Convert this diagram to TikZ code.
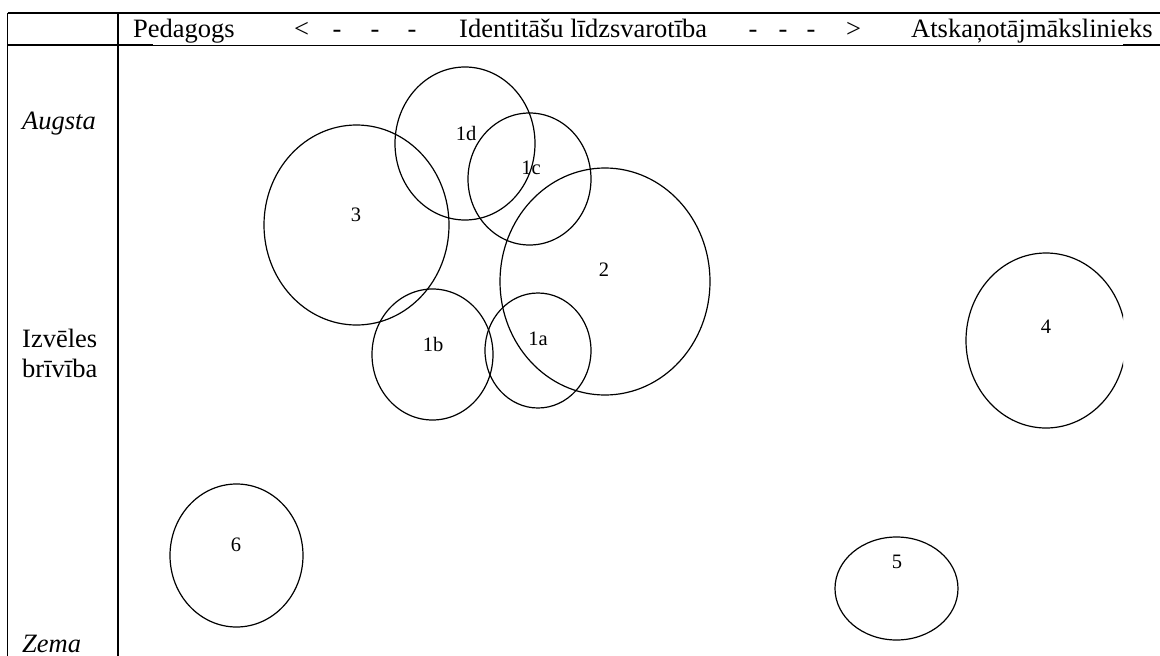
\documentclass[tikz,border=0pt]{standalone}
\usepackage{fontspec}
\setmainfont{Liberation Serif}
\usetikzlibrary{shapes.geometric}
\begin{document}
\begin{tikzpicture}[x=1pt,y=-1pt,
  rule/.style={line width=1.8pt},
  thinrule/.style={line width=0.9pt},
  bubble/.style={ellipse,draw,line width=1.2pt,inner sep=0pt,outer sep=0pt},
  lab/.style={font=\fontsize{20.5}{23}\selectfont,inner sep=0pt},
  head/.style={font=\fontsize{26.5}{30}\selectfont,inner sep=0pt,anchor=base west},
  headc/.style={font=\fontsize{26.5}{30}\selectfont,inner sep=0pt,anchor=base},
  side/.style={font=\fontsize{26.5}{30}\selectfont,inner sep=0pt,anchor=base west,align=left}]
\useasboundingbox (0,0) rectangle (1160,656);
% table lines
\coordinate (tl) at (7.5,13);
\coordinate (tr) at (1160,13);
\coordinate (bl) at (7.5,656);
\coordinate (dt) at (118,13);
\coordinate (db) at (118,656);
\coordinate (hl) at (7.5,45);
\coordinate (hm1) at (153,45);
\coordinate (hm2) at (1123,45);
\coordinate (hr) at (1160,45);
\draw[rule] (tl) -- (tr);
\draw[rule] (tl) -- (bl);
\draw[rule] (dt) -- (db);
\draw[rule] (hl) -- (hm1);
\draw[thinrule] (hm1) -- (hm2);
\draw[rule] (hm2) -- (hr);
% header
\node[head] (hped) at (133,37) {Pedagogs};
\node[head] (hlt) at (294,37) {<};
\node[headc] (hd1) at (337,37) {-};
\node[headc] (hd2) at (375,37) {-};
\node[headc] (hd3) at (412,37) {-};
\node[head] (hid) at (459,37) {Identitāšu līdzsvarotība};
\node[headc] (hd4) at (753,37) {-};
\node[headc] (hd5) at (783,37) {-};
\node[headc] (hd6) at (811,37) {-};
\node[head] (hgt) at (846,37) {>};
\node[head] (hat) at (911,37) {Atskaņotājmākslinieks};
% side labels
\node[side] (saug) at (22,129) {\itshape Augsta};
\node[side] (sizv) at (22,347) {Izvēles};
\node[side] (sbri) at (22,377) {brīvība};
\node[side] (szem) at (22,652) {\itshape Zema};
% bubbles
\begin{scope}
\clip (118,45) rectangle (1123,656);
\node[bubble,minimum width=140pt,minimum height=153pt] (c1d) at (465,143.5) {};
\node[bubble,minimum width=123pt,minimum height=132pt] (c1c) at (529.5,179) {};
\node[bubble,minimum width=185pt,minimum height=200pt] (c3) at (356.5,225) {};
\node[bubble,minimum width=210pt,minimum height=227pt] (c2) at (605,281.5) {};
\node[bubble,minimum width=121pt,minimum height=131pt] (c1b) at (432.5,354.5) {};
\node[bubble,minimum width=106pt,minimum height=115pt] (c1a) at (538,350.5) {};
\node[bubble,minimum width=160pt,minimum height=175pt] (c4) at (1046,340.5) {};
\node[bubble,minimum width=133pt,minimum height=143pt] (c6) at (236.5,555.5) {};
\node[bubble,minimum width=123pt,minimum height=103pt] (c5) at (896.5,588.5) {};
\end{scope}
% bubble labels
\node[lab] (l1d) at (466,133) {1d};
\node[lab] (l1c) at (531,168) {1c};
\node[lab] (l3) at (356,215) {3};
\node[lab] (l2) at (604,270) {2};
\node[lab] (l1b) at (433,344) {1b};
\node[lab] (l1a) at (538,339) {1a};
\node[lab] (l4) at (1046,327) {4};
\node[lab] (l6) at (236,545) {6};
\node[lab] (l5) at (897,562) {5};
\end{tikzpicture}
\end{document}
